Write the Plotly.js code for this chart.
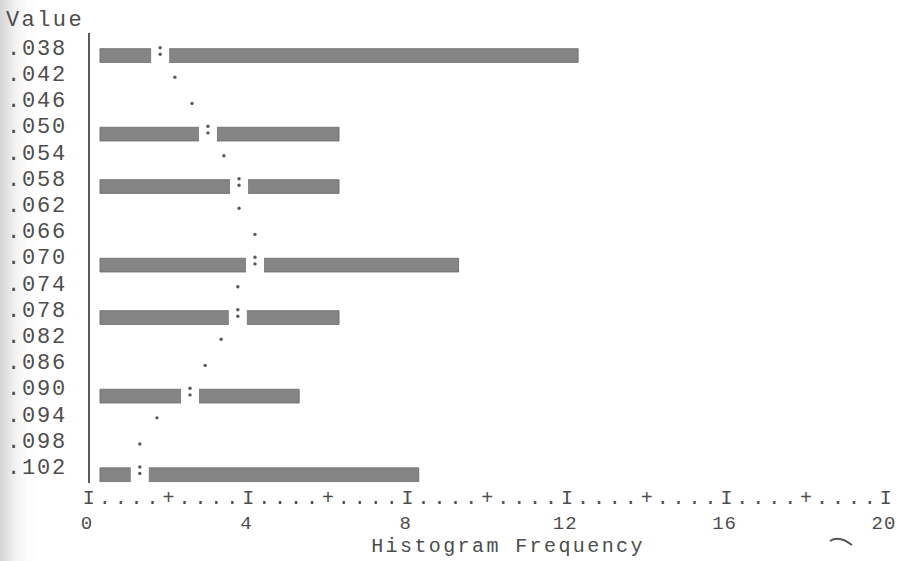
<!DOCTYPE html>
<html>
<head>
<meta charset="utf-8">
<script src="https://cdn.plot.ly/plotly-3.0.1.min.js"></script>
<style>
  html, body { margin: 0; padding: 0; }
  body {
    width: 897px; height: 561px; overflow: hidden;
    background: linear-gradient(to right, #d4d4d4 0px, #e2e2e2 7px, #f2f2f2 15px, #fcfcfc 26px, #ffffff 40px);
  }
  #chart { width: 897px; height: 561px; }
  /* typewriter-style spacing for the printed characters */
  #chart text { letter-spacing: 2.4px; }
  #chart .ytick text { letter-spacing: 1.8px; }
  #chart .x2tick text { letter-spacing: 1px; }
</style>
</head>
<body>
<div id="chart"></div>
<script>
// Midpoint labels of the value axis, top to bottom
const valueLabels = ['.038', '.042', '.046', '.050', '.054', '.058', '.062', '.066',
                     '.070', '.074', '.078', '.082', '.086', '.090', '.094', '.098', '.102'];

// Histogram bins that hold observations and their counts
const barMidpoints = ['.038', '.050', '.058', '.070', '.078', '.090', '.102'];
const barFrequency = [12, 6, 6, 9, 6, 5, 8];

// Fitted normal curve, expressed as frequency for every midpoint row
const curveFrequency = [1.76, 2.13, 2.56, 2.96, 3.36, 3.74, 3.74, 4.14, 4.14,
                        3.71, 3.71, 3.29, 2.89, 2.51, 1.68, 1.25, 1.25];

// Frequency axis labels
const freqTickValues = [0, 4, 8, 12, 16, 20];
const freqTickLabels = ['0', '4', '8', '12', '16', '20'];

const toNum = s => parseFloat('0' + s);
const rowValues = valueLabels.map(toNum);
const barValues = barMidpoints.map(toNum);

// Printer-style scale line: one character every 0.4 units, "I" at labelled ticks, "+" halfway
const scaleStep = 0.4;
const scaleVals = [], scaleText = [];
for (let i = 0; i <= 50; i++) {
  scaleVals.push(+(i * scaleStep).toFixed(2));
  scaleText.push(i % 10 === 0 ? 'I' : (i % 5 === 0 ? '+' : '.'));
}

// vertical geometry
const rowStep = 0.004;
const rowPx = 26.2;
const pxToVal = rowStep / rowPx;
const barWidth = 0.0021;
const barDrop = 4.5 * pxToVal;      // bars sit a little below the curve row
const colonHalf = 3.3 * pxToVal;    // half distance between the two dots of ":"

const font = 'Liberation Mono, Courier New, monospace';
const ink = '#4d4d4d';

// curve dots: ":" on rows that carry a bar, "." elsewhere
const barSet = new Set(barMidpoints);
const dotX = [], dotY = [];
const gapX = [], gapY = [];
valueLabels.forEach((lab, i) => {
  if (barSet.has(lab)) {
    dotX.push(curveFrequency[i], curveFrequency[i]);
    dotY.push(rowValues[i] - colonHalf, rowValues[i] + colonHalf);
    gapX.push(curveFrequency[i]);
    gapY.push(rowValues[i] + barDrop / 2);
  } else {
    dotX.push(curveFrequency[i]);
    dotY.push(rowValues[i]);
  }
});

const traces = [
  {
    type: 'bar',
    orientation: 'h',
    x: barFrequency,
    y: barValues,
    base: 0.25,
    width: barWidth,
    offset: barDrop - barWidth / 2,
    marker: { color: '#858585', line: { color: '#686868', width: 0.8 } },
    hoverinfo: 'x+y',
    showlegend: false
  },
  {
    // blank space left around the curve where it crosses a bar
    type: 'scatter',
    mode: 'markers',
    x: gapX,
    y: gapY,
    marker: { symbol: 'line-ns', size: 26, color: '#ffffff', line: { color: '#ffffff', width: 18 } },
    hoverinfo: 'skip',
    showlegend: false
  },
  {
    type: 'scatter',
    mode: 'markers',
    x: dotX,
    y: dotY,
    marker: { symbol: 'circle', size: 3.4, color: '#5a5a5a' },
    hoverinfo: 'skip',
    showlegend: false
  },
  {
    // carries the numeric frequency labels beneath the scale line
    type: 'scatter',
    mode: 'markers',
    x: [0],
    y: [rowValues[0]],
    xaxis: 'x2',
    marker: { opacity: 0 },
    hoverinfo: 'skip',
    showlegend: false
  }
];

const layout = {
  width: 897,
  height: 561,
  margin: { l: 90, r: 10, t: 33, b: 78 },
  paper_bgcolor: 'rgba(0,0,0,0)',
  plot_bgcolor: 'rgba(0,0,0,0)',
  font: { family: font, color: ink, size: 21 },
  bargap: 0,
  xaxis: {
    range: [0, 20],
    tickmode: 'array',
    tickvals: scaleVals,
    ticktext: scaleText,
    tickangle: 0,
    ticks: '',
    ticklabelstandoff: 0,
    ticklabeloverflow: 'allow',
    showgrid: false,
    zeroline: false,
    showline: false,
    tickfont: { family: font, size: 20, color: ink }
  },
  xaxis2: {
    overlaying: 'x',
    anchor: 'y',
    side: 'bottom',
    range: [0, 20],
    tickmode: 'array',
    tickvals: freqTickValues,
    ticktext: freqTickLabels,
    tickangle: 0,
    ticks: '',
    ticklabelstandoff: 26,
    ticklabelshift: -3,
    ticklabeloverflow: 'allow',
    showgrid: false,
    zeroline: false,
    showline: false,
    tickfont: { family: font, size: 19, color: ink }
  },
  yaxis: {
    range: [0.10395, 0.03525],
    tickmode: 'array',
    tickvals: rowValues,
    ticktext: valueLabels,
    ticks: '',
    ticklabelstandoff: 17,
    ticklabelshift: 4,
    showgrid: false,
    zeroline: false,
    showline: true,
    linecolor: '#5a5a5a',
    linewidth: 1.6,
    tickfont: { family: font, size: 22, color: ink }
  },
  annotations: [
    {
      text: 'Value',
      xref: 'paper', yref: 'paper',
      x: 0, y: 1,
      xanchor: 'left', yanchor: 'bottom',
      xshift: -80, yshift: -2,
      showarrow: false,
      font: { family: font, size: 22, color: ink }
    },
    {
      text: 'Histogram Frequency',
      xref: 'paper', yref: 'paper',
      x: 0.5, y: 0,
      xanchor: 'center', yanchor: 'middle',
      xshift: 19, yshift: -63,
      showarrow: false,
      font: { family: font, size: 20, color: ink }
    }
  ],
  shapes: [
    {
      // small pen stroke near the lower right corner
      type: 'path',
      xref: 'paper', yref: 'paper',
      xsizemode: 'pixel', ysizemode: 'pixel',
      xanchor: 1, yanchor: 0,
      path: 'M-57,-58 Q-48,-52 -35,-62',
      line: { color: '#555555', width: 2 }
    }
  ]
};

Plotly.newPlot('chart', traces, layout, { displayModeBar: false, staticPlot: true });
</script>
</body>
</html>
